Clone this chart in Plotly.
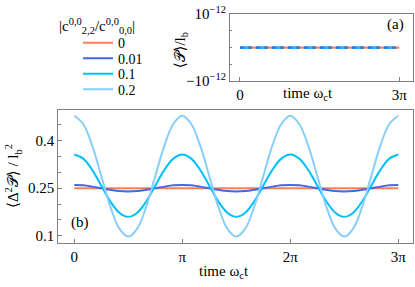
import plotly.graph_objects as go

# ---------------- data ----------------
ratios = ["0", "0.01", "0.1", "0.2"]
colors = ["#FF7F50", "#4169E1", "#00BFFF", "#87CEFA"]

# time in units of pi (samples every pi/12)
time_pi = [0.000, 0.083, 0.167, 0.250, 0.333, 0.417, 0.500, 0.583, 0.667, 0.750, 0.833, 0.917,
           1.000, 1.083, 1.167, 1.250, 1.333, 1.417, 1.500, 1.583, 1.667, 1.750, 1.833, 1.917,
           2.000, 2.083, 2.167, 2.250, 2.333, 2.417, 2.500, 2.583, 2.667, 2.750, 2.833, 2.917,
           3.000]

var_r0 = [0.250] * 37
var_r001 = [0.260, 0.259, 0.255, 0.250, 0.245, 0.241, 0.240, 0.241, 0.245, 0.250, 0.255, 0.259,
            0.260, 0.259, 0.255, 0.250, 0.245, 0.241, 0.240, 0.241, 0.245, 0.250, 0.255, 0.259,
            0.260, 0.259, 0.255, 0.250, 0.245, 0.241, 0.240, 0.241, 0.245, 0.250, 0.255, 0.259,
            0.260]
var_r01 = [0.356, 0.343, 0.307, 0.258, 0.209, 0.173, 0.160, 0.173, 0.209, 0.258, 0.307, 0.343,
           0.356, 0.343, 0.307, 0.258, 0.209, 0.173, 0.160, 0.173, 0.209, 0.258, 0.307, 0.343,
           0.356, 0.343, 0.307, 0.258, 0.209, 0.173, 0.160, 0.173, 0.209, 0.258, 0.307, 0.343,
           0.356]
var_r02 = [0.478, 0.452, 0.383, 0.288, 0.193, 0.123, 0.098, 0.123, 0.193, 0.288, 0.383, 0.452,
           0.478, 0.452, 0.383, 0.288, 0.193, 0.123, 0.098, 0.123, 0.193, 0.288, 0.383, 0.452,
           0.478, 0.452, 0.383, 0.288, 0.193, 0.123, 0.098, 0.123, 0.193, 0.288, 0.383, 0.452,
           0.478]
variances = [var_r0, var_r001, var_r01, var_r02]

# mean momentum (panel a): zero for all
time_a = [0.0, 3.0]
mean_p = [[0.0, 0.0], [0.0, 0.0], [0.0, 0.0], [0.0, 0.0]]

xtick_vals = [0, 1, 2, 3]
xtick_text = ["0", "π", "2π", "3π"]
xtick_vals_a = [0, 3]
xtick_text_a = ["0", "3π"]
ytick_vals_b = [0.1, 0.25, 0.4]
ytick_text_b = ["0.1", "0.25", "0.4"]
yminor_b = [0.15, 0.2, 0.3, 0.35, 0.45]
ytick_vals_a = [-1e-12, 1e-12]
ytick_text_a = ["−10<sup>−12</sup>", "10<sup>−12</sup>"]
yminor_a = [-0.5e-12, 0.0, 0.5e-12]

FONT = "Liberation Serif, DejaVu Serif, Times New Roman, serif"
AX = "#7f7f7f"

fig = go.Figure()

legend_names = ["legend", "legend2", "legend3", "legend4"]
for i in range(4):
    fig.add_trace(go.Scatter(
        x=time_pi, y=variances[i], mode="lines", name=ratios[i],
        line=dict(color=colors[i], width=2, shape="spline"),
        xaxis="x", yaxis="y", legend=legend_names[i], showlegend=True))

dashes = ["solid", "4px,4px", "12px,4px", "8px,8px"]
for i in [0, 3, 2, 1]:
    fig.add_trace(go.Scatter(
        x=time_a, y=mean_p[i], mode="lines", name=ratios[i],
        line=dict(color=colors[i], width=2.2, dash=dashes[i]),
        xaxis="x2", yaxis="y2", showlegend=False))

axis_common = dict(showline=True, linecolor=AX, linewidth=1, mirror=True,
                   ticks="inside", tickcolor=AX, ticklen=4, showgrid=False, zeroline=False,
                   ticklabeloverflow="allow",
                   tickfont=dict(family=FONT, size=15, color="black"))

fig.update_layout(
    width=415, height=287, margin=dict(l=0, r=0, t=0, b=0),
    paper_bgcolor="white", plot_bgcolor="white",
    font=dict(family=FONT, size=15, color="black"),
    xaxis=dict(domain=[0.1405, 0.9959], range=[-0.148, 3.139],
               tickmode="array", tickvals=xtick_vals, ticktext=xtick_text,
               anchor="y", **axis_common),
    yaxis=dict(domain=[0.1324, 0.6282], range=[0.0764, 0.496],
               tickmode="array", tickvals=ytick_vals_b, ticktext=ytick_text_b,
               minor=dict(tickmode="array", tickvals=yminor_b, ticks="inside", ticklen=2.5, tickcolor=AX),
               anchor="x", **axis_common),
    xaxis2=dict(domain=[0.5542, 0.9959], range=[-0.188, 3.264],
                tickmode="array", tickvals=xtick_vals_a, ticktext=xtick_text_a,
                anchor="y2", **axis_common),
    yaxis2=dict(domain=[0.735, 0.986], range=[-1.01e-12, 1.01e-12],
                tickmode="array", tickvals=ytick_vals_a, ticktext=ytick_text_a,
                minor=dict(tickmode="array", tickvals=yminor_a, ticks="inside", ticklen=2.5, tickcolor=AX),
                anchor="x2", **axis_common),
)

# legends: one per entry so spacing can match the reference
leg_y = [35.5, 52.0, 68.5, 85.0]
for i, ln in enumerate(legend_names):
    cfg = dict(x=78 / 415, xanchor="left", y=1 - leg_y[i] / 287, yanchor="middle",
               bgcolor="rgba(0,0,0,0)", borderwidth=0,
               font=dict(family=FONT, size=14, color="black"),
               itemwidth=30, tracegroupgap=0)
    fig.update_layout({ln: cfg})

annots = [
    dict(text="|c<sup>0,0</sup><sub>2,2</sub>/c<sup>0,0</sup><sub>0,0</sub>|", x=97 / 415, y=1 - 17 / 287),
    dict(text="(a)", x=395 / 415, y=1 - 15 / 287),
    dict(text="(b)", x=80 / 415, y=1 - 227 / 287),
    dict(text="time ω<sub>c</sub>t", x=224 / 415, y=1 - 279 / 287),
    dict(text="time ω<sub>c</sub>t", x=308 / 415, y=1 - 90 / 287),
    dict(text="⟨Δ<sup>2</sup>𝒫⟩ / l<sub>b</sub><sup>2</sup>", x=13 / 415, y=1 - 177 / 287, textangle=-90),
    dict(text="⟨𝒫⟩/l<sub>b</sub>", x=181 / 415, y=1 - 43 / 287, textangle=-90),
]
for a in annots:
    fig.add_annotation(xref="paper", yref="paper", xanchor="center", yanchor="middle",
                       showarrow=False, font=dict(family=FONT, size=15, color="black"), **a)

fig.write_html("out.html", config={"displayModeBar": False},
               post_script="document.body.style.margin='0';")
